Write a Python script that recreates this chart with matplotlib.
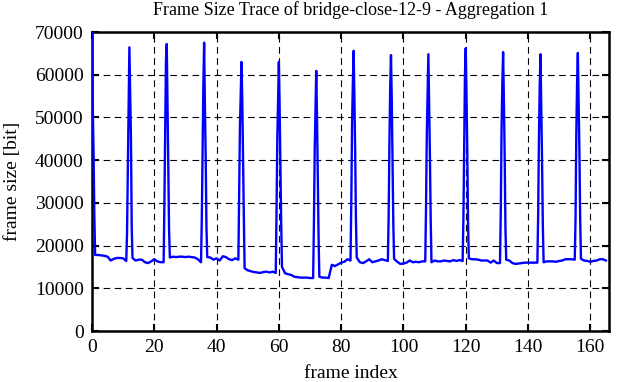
import matplotlib
matplotlib.use("Agg")
import matplotlib.pyplot as plt

# ---- data ----
frame_size = [
    69800, 17800, 17800, 17700, 17600, 17400, 16500, 16900, 17100, 17100, 17000, 16400,
    66400, 17100, 16500, 16700, 16700, 16100, 15900, 16300, 16800, 16300, 16100, 16100,
    67200, 17200, 17400, 17300, 17400, 17400, 17300, 17400, 17300, 17200, 16800, 16100,
    67500, 17300, 17200, 16700, 17000, 16500, 17500, 17300, 16800, 16600, 17000, 16700,
    63000, 14700, 14200, 14000, 13800, 13700, 13600, 13800, 13900, 13700, 13900, 13600,
    63000, 15000, 13500, 13300, 13100, 12700, 12600, 12500, 12500, 12500, 12400, 12400,
    60900, 12700, 12500, 12500, 12400, 15500, 15200, 15600, 16000, 16200, 16800, 16500,
    65600, 17200, 16100, 15900, 16300, 16800, 16100, 16300, 16500, 16800, 16600, 16400,
    64600, 16900, 16200, 15700, 15800, 16000, 16500, 16100, 16200, 16100, 16300, 16300,
    64800, 16100, 16500, 16300, 16300, 16500, 16400, 16300, 16600, 16400, 16600, 16400,
    66200, 17000, 16800, 16800, 16700, 16500, 16500, 16500, 16000, 16500, 15900, 15900,
    65300, 16700, 16500, 15900, 15700, 15800, 15900, 16000, 16000, 16000, 16000, 16000,
    64800, 16100, 16300, 16300, 16300, 16200, 16400, 16500, 16800, 16800, 16800, 16700,
    65100, 16900, 16500, 16400, 16200, 16400, 16500, 16800, 16800, 16500,
]

# I-frame positions and sub-frame samples around them
peak_frames = [0, 12, 24, 36, 48, 60, 72, 84, 96, 108, 120, 132, 144, 156]
peak_rise = [
    [],
    [23000, 37300, 53300],
    [30300, 46700, 63400],
    [26000, 40800, 57200],
    [33000, 47800, 55300],
    [28000, 45000, 54000],
    [25000, 42000, 52000],
    [30000, 48000, 58000],
    [27000, 44000, 57000],
    [29000, 46000, 56000],
    [26000, 44000, 60000],
    [28000, 47000, 58000],
    [27000, 45000, 57000],
    [26000, 46000, 58000],
]
peak_fall = [
    [52000, 42000, 27000],
    [55600, 45500, 24400],
    [53000, 39300, 23600],
    [53000, 40800, 24400],
    [54000, 40000, 26700],
    [52000, 38000, 25000],
    [50000, 36000, 22000],
    [55000, 42000, 26000],
    [54000, 40000, 25000],
    [53000, 41000, 26000],
    [55000, 42000, 25000],
    [54000, 41000, 24000],
    [53000, 40000, 25000],
    [54000, 42000, 26000],
]
sub_offsets_rise = [-0.75, -0.5, -0.25]
sub_offsets_fall = [0.25, 0.5, 0.75]

xs, ys = [], []
peak_lookup = {f: i for i, f in enumerate(peak_frames)}
for f, v in enumerate(frame_size):
    if f in peak_lookup:
        i = peak_lookup[f]
        rise = peak_rise[i]
        offs = sub_offsets_rise[len(sub_offsets_rise) - len(rise):]
        for o, r in zip(offs, rise):
            xs.append(f + o); ys.append(r)
        xs.append(f); ys.append(v)
        for o, r in zip(sub_offsets_fall, peak_fall[i]):
            xs.append(f + o); ys.append(r)
    else:
        xs.append(f); ys.append(v)

x_ticks = [0, 20, 40, 60, 80, 100, 120, 140, 160]
y_ticks = [0, 10000, 20000, 30000, 40000, 50000, 60000, 70000]

# ---- plot ----
plt.rcParams['font.family'] = ['Liberation Serif', 'DejaVu Serif']
plt.rcParams['font.size'] = 14

fig = plt.figure(figsize=(6.22, 3.82), dpi=100)
ax = fig.add_axes([92/622, 51/382, 517/622, 299/382])

ax.plot(xs, ys, color=(0, 0, 1), lw=1.7, zorder=3)

ax.set_xlim(0, 166)
ax.set_ylim(0, 70000)
ax.set_xticks(x_ticks)
ax.set_yticks(y_ticks)
ax.set_xticklabels([str(t) for t in x_ticks])
ax.set_yticklabels([str(t) for t in y_ticks])
ax.grid(True, color='black', linestyle=(0, (6, 4)), linewidth=0.8)
ax.tick_params(direction='in', length=5, width=1.5, top=True, right=True)
ax.tick_params(axis='x', pad=6)
ax.tick_params(axis='y', pad=6)
for s in ax.spines.values():
    s.set_linewidth(1.8)

ax.set_xlabel('frame index', labelpad=6)
ax.set_ylabel('frame size [bit]', labelpad=10)
ax.set_title('Frame Size Trace of bridge-close-12-9 - Aggregation 1', fontsize=13, pad=12)

fig.savefig('out.png', dpi=100)
